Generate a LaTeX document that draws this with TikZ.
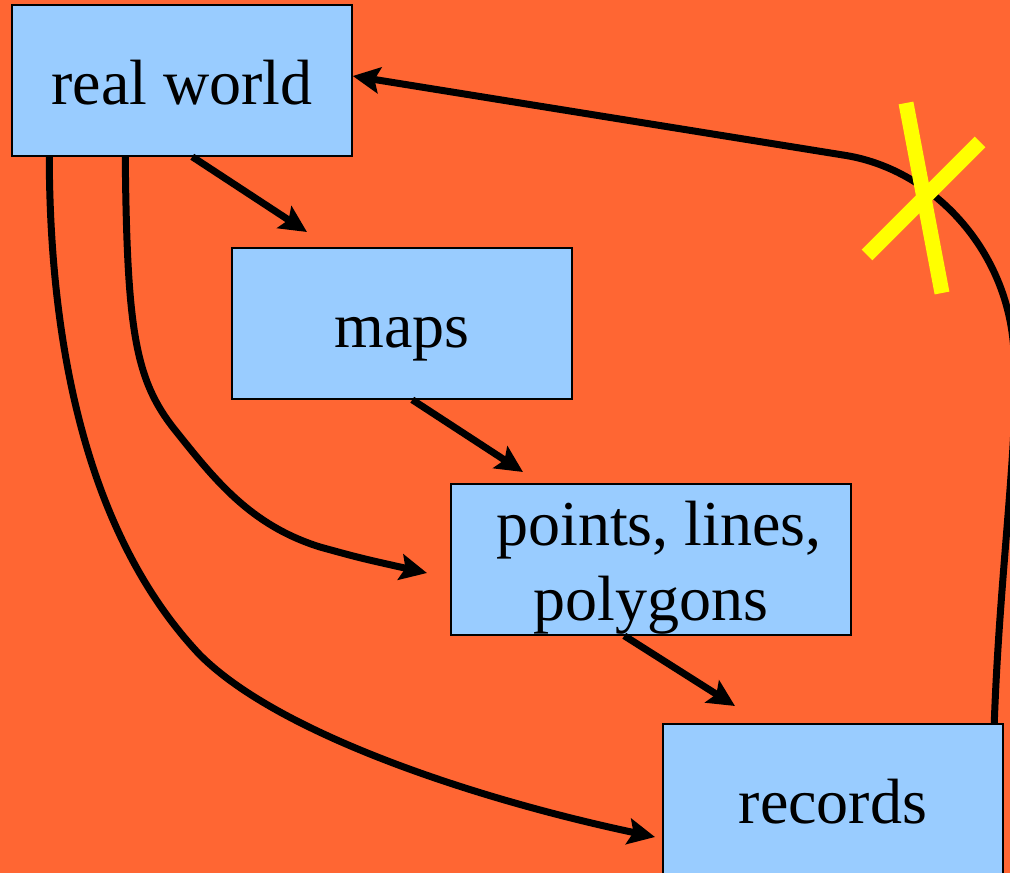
\documentclass[tikz,border=0pt]{standalone}
\usepackage{fontspec}
\setmainfont{Liberation Serif}
\usetikzlibrary{arrows.meta}
\definecolor{bgorange}{HTML}{FF6633}
\definecolor{boxblue}{HTML}{99CCFF}
\definecolor{xyellow}{HTML}{FFFF00}
\newcommand{\topstrut}{\rule{0pt}{60pt}}
\newcommand{\botstrut}{\rule[-14pt]{0pt}{14pt}}
\newcommand{\fullstrut}{\rule[-14pt]{0pt}{75pt}}
\tikzset{
  box/.style={draw=black, line width=1.5pt, fill=boxblue, rectangle, inner sep=0pt,
    minimum width=340pt, minimum height=151pt, align=center,
    font=\fontsize{64}{75}\selectfont},
  arr/.style={line width=7pt, -{Stealth[length=27pt,width=26pt,inset=5pt]}},
  cross/.style={line width=15pt, draw=xyellow}
}
\begin{document}
\begin{tikzpicture}[x=1pt,y=-1pt]
\fill[bgorange] (0,0) rectangle (1010,873);
\useasboundingbox (0,0) rectangle (1010,873);

\node[box] (rw) at (182,80.5) {\fullstrut real world};
\node[box] (mp) at (402,323.5) {\fullstrut maps};
\node[box, minimum width=400pt] (pt) at (651,559.5) {\kern16pt\topstrut points, lines,\\polygons\botstrut};
\node[box] (rc) at (833,799.5) {\fullstrut records};

% straight arrows
\coordinate (a1s) at ([xshift=181pt]rw.south west);
\coordinate (a1e) at (307,232);
\draw[arr] (a1s) -- (a1e);
\coordinate (a2s) at ([xshift=181pt]mp.south west);
\coordinate (a2e) at (523,472);
\draw[arr] (a2s) -- (a2e);
\coordinate (a3s) at ([xshift=174pt]pt.south west);
\coordinate (a3e) at (735,706);
\draw[arr] (a3s) -- (a3e);

% inner curve: real world -> points
\coordinate (c1s) at ([xshift=114pt]rw.south west);
\coordinate (c1e) at (427,573);
\draw[arr] (c1s) .. controls (127,330) and (135,380) .. (175,430)
  .. controls (215,480) and (250,525) .. (320,547)
  .. controls (360,558) .. (c1e);

% outer curve: real world -> records
\coordinate (c2s) at ([xshift=38pt]rw.south west);
\coordinate (c2e) at (655,837);
\draw[arr] (c2s) .. controls (50,400) and (110,560) .. (200,655)
  .. controls (280,735) and (480,800) .. (c2e);

% right curve: records -> real world
\coordinate (c3s) at ([xshift=332pt]rc.north west);
\coordinate (c3e) at ([yshift=4.5pt]rw.east);
\draw[arr] (c3s) .. controls (1000,560) and (1022,420) .. (1013,340)
  .. controls (1003,245) and (930,168) .. (843,155) -- (c3e);

% yellow cross
\draw[cross] (906,103) -- (942,293);
\draw[cross] (980,142) -- (867,255);
\end{tikzpicture}
\end{document}
